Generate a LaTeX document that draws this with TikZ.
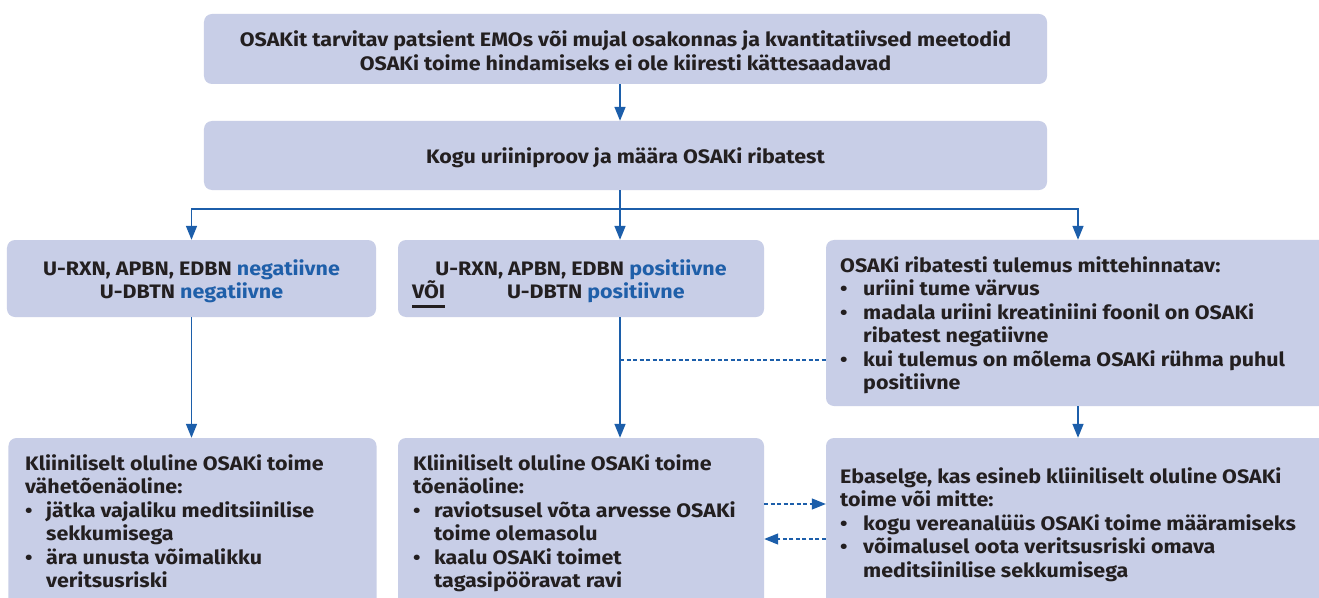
\documentclass[tikz,border=0pt]{standalone}
\usepackage{fontspec}
\setmainfont{Fira Sans}[FakeStretch=1.1]
\usetikzlibrary{arrows.meta}
\definecolor{boxc}{HTML}{C8CEE7}
\definecolor{tblue}{HTML}{1F5FA9}
\definecolor{ablue}{HTML}{1C5EAA}
\definecolor{tblack}{HTML}{231F20}
\newsavebox\vuBox
\newcommand\vunder[1]{\sbox\vuBox{#1}\rlap{\rule[-9.3bp]{\wd\vuBox}{2.6bp}}\usebox\vuBox}
\newcommand\bl{\makebox[23bp][l]{•}}
\newcommand\blL{\makebox[21bp][l]{•}}
\newcommand\ind{\hspace*{23bp}}
\newcommand\indL{\hspace*{21bp}}
\newcommand\st{\rule{0pt}{18bp}}
\newcommand\hst[1]{\rule{0pt}{#1bp}}
\newcommand\dst[1]{\rule[-#1bp]{0pt}{#1bp}}
\begin{document}
\begin{tikzpicture}[x=1bp,y=-1bp,
  every node/.style={font=\fontsize{19.5bp}{23.5bp}\selectfont\bfseries, text=tblack},
  box/.style={fill=boxc, rounded corners=8bp, inner sep=0pt, draw=none},
  txt/.style={anchor=north west, inner sep=0pt, align=left},
  conn/.style={draw=ablue, line width=1.5bp},
  arr/.style={conn, -{Triangle[length=14bp,width=11bp]}},
  dsh/.style={draw=ablue, line width=1.2bp, dash pattern=on 4bp off 2.5bp},
  darr/.style={dsh, -{Triangle[length=14bp,width=11bp]}}]
\useasboundingbox (0,0) rectangle (1319,598);
\fill[white] (0,0) rectangle (1319,598);
\clip (0,0) rectangle (1319,598);

\node[box, minimum width=843bp, minimum height=70bp, align=center] (top) at (625.5,49)
  {\hst{27.5}OSAKit tarvitav patsient EMOs või mujal osakonnas ja kvantitatiivsed meetodid\\OSAKi toime hindamiseks ei ole kiiresti kättesaadavad\dst{8}};
\node[box, minimum width=843bp, minimum height=69bp] (kogu) at (625.5,155.5)
  {\hst{21}\dst{5}Kogu uriiniproov ja määra OSAKi ribatest};

\node[box, minimum width=369bp, minimum height=77bp, align=center] (lmid) at (191.5,278.5)
  {\hst{26.5}U-RXN, APBN, EDBN \textcolor{tblue}{negatiivne}\\U-DBTN \textcolor{tblue}{negatiivne}\dst{10}};
\node[box, minimum width=366bp, minimum height=77bp, align=center] (cmid) at (581,278.5)
  {\hst{26.5}U-RXN, APBN, EDBN \textcolor{tblue}{positiivne}\\\hbox to 338bp{\makebox[95bp][l]{\vunder{VÕI}}U-DBTN \textcolor{tblue}{positiivne}\hfill}\dst{10}};
\node[box, minimum width=504bp, minimum height=166bp] (rmid) at (1078,323) {};

\node[box, minimum width=368bp, minimum height=202bp] (lbot) at (192.5,539) {};
\node[box, minimum width=366bp, minimum height=202bp] (cbot) at (581,539) {};
\node[box, minimum width=504bp, minimum height=202bp] (rbot) at (1078,539) {};

\node[txt] (rmidt) at (840,254) {\st OSAKi ribatesti tulemus mittehinnatav:\\
  \bl uriini tume värvus\\
  \bl madala uriini kreatiniini foonil on OSAKi\\
  \ind ribatest negatiivne\\
  \bl kui tulemus on mõlema OSAKi rühma puhul\\
  \ind positiivne};

\node[txt] (lbott) at (25,452) {\st Kliiniliselt oluline OSAKi toime\\
  vähetõenäoline:\\
  \blL jätka vajaliku meditsiinilise\\
  \indL sekkumisega\\
  \blL ära unusta võimalikku\\
  \indL veritsusriski};

\node[txt] (cbott) at (413,452) {\st Kliiniliselt oluline OSAKi toime\\
  tõenäoline:\\
  \blL raviotsusel võta arvesse OSAKi\\
  \indL toime olemasolu\\
  \blL kaalu OSAKi toimet\\
  \indL tagasipööravat ravi};

\node[txt] (rbott) at (840,465) {\st Ebaselge, kas esineb kliiniliselt oluline OSAKi\\
  toime või mitte:\\
  \bl kogu vereanalüüs OSAKi toime määramiseks\\
  \bl võimalusel oota veritsusriski omava\\
  \ind meditsiinilise sekkumisega};

\coordinate (j) at (620,209);
\draw[arr] (top.south -| j) -- (kogu.north -| j);
\draw[conn] (kogu.south -| j) -- (j);
\draw[arr] (j) -| (lmid.north);
\draw[arr] (j) -- (cmid.north -| j);
\draw[arr] (j) -| (rmid.north);
\draw[arr] (lmid.south) -- (lmid.south |- lbot.north);
\draw[arr] (cmid.south -| j) -- (cbot.north -| j);
\draw[arr] (rmid.south) -- (rbot.north);
\coordinate (d1) at (620,360);
\draw[dsh] (d1) -- (d1 -| rmid.west);
\coordinate (d2) at (0,504);
\coordinate (d3) at (0,539);
\draw[darr] (cbot.east |- d2) -- (rbot.west |- d2);
\draw[darr] (rbot.west |- d3) -- (cbot.east |- d3);
\end{tikzpicture}
\end{document}
